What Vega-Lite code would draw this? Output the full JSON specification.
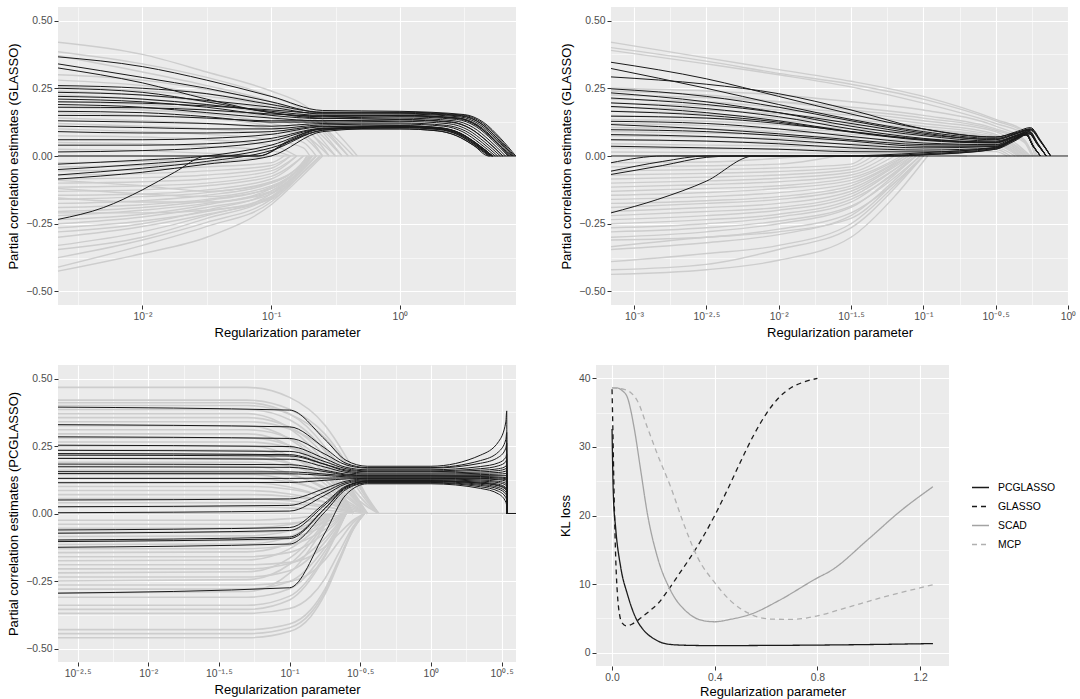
{
"$schema":"https://vega.github.io/schema/vega-lite/v6.json",
"padding":{"left":7,"top":7,"right":0,"bottom":0},
"background":"white",
"config":{
 "font":"Liberation Sans",
 "view":{"fill":"#EBEBEB","stroke":null},
 "axis":{"domain":false,"grid":true,"gridColor":"#FFFFFF","tickColor":"#333333","tickSize":4,"tickWidth":1,"labelColor":"#4D4D4D","labelFontSize":10.4,"titleFontSize":13,"titleFontWeight":"normal","titleColor":"#000000","labelPadding":2,"labelOverlap":false,"labelFlush":false,"labelBound":false},
 "axisX":{"titlePadding":5},
 "axisY":{"titlePadding":5.5}
},
"datasets":{
"p1":[
{"i":"g0","x":0.00221,"y":0},{"i":"g0","x":7.98,"y":0},
{"i":"g1","x":0.00221,"y":0.42},{"i":"g1","x":0.01,"y":0.375},{"i":"g1","x":0.0316,"y":0.31},{"i":"g1","x":0.1,"y":0.24},{"i":"g1","x":0.178,"y":0.19},{"i":"g1","x":0.316,"y":0.09},{"i":"g1","x":0.468,"y":0},
{"i":"g2","x":0.00221,"y":0.385},{"i":"g2","x":0.01,"y":0.34},{"i":"g2","x":0.0316,"y":0.29},{"i":"g2","x":0.1,"y":0.22},{"i":"g2","x":0.178,"y":0.17},{"i":"g2","x":0.398,"y":0},
{"i":"g3","x":0.00221,"y":0.37},{"i":"g3","x":0.01,"y":0.31},{"i":"g3","x":0.0316,"y":0.26},{"i":"g3","x":0.1,"y":0.2},{"i":"g3","x":0.178,"y":0.155},{"i":"g3","x":0.355,"y":0},
{"i":"g4","x":0.00221,"y":0.3},{"i":"g4","x":0.01,"y":0.28},{"i":"g4","x":0.0316,"y":0.245},{"i":"g4","x":0.1,"y":0.2},{"i":"g4","x":0.178,"y":0.16},{"i":"g4","x":0.437,"y":0},
{"i":"g5","x":0.00221,"y":0.28},{"i":"g5","x":0.01,"y":0.26},{"i":"g5","x":0.0316,"y":0.23},{"i":"g5","x":0.1,"y":0.19},{"i":"g5","x":0.178,"y":0.15},{"i":"g5","x":0.398,"y":0},
{"i":"g6","x":0.00221,"y":0.255},{"i":"g6","x":0.01,"y":0.24},{"i":"g6","x":0.0316,"y":0.22},{"i":"g6","x":0.1,"y":0.18},{"i":"g6","x":0.178,"y":0.13},{"i":"g6","x":0.316,"y":0},
{"i":"g7","x":0.00221,"y":0.24},{"i":"g7","x":0.01,"y":0.225},{"i":"g7","x":0.0316,"y":0.2},{"i":"g7","x":0.1,"y":0.17},{"i":"g7","x":0.178,"y":0.13},{"i":"g7","x":0.355,"y":0},
{"i":"g8","x":0.00221,"y":0.225},{"i":"g8","x":0.01,"y":0.21},{"i":"g8","x":0.0316,"y":0.19},{"i":"g8","x":0.1,"y":0.15},{"i":"g8","x":0.178,"y":0.11},{"i":"g8","x":0.282,"y":0},
{"i":"g9","x":0.00221,"y":0.2},{"i":"g9","x":0.01,"y":0.19},{"i":"g9","x":0.0316,"y":0.17},{"i":"g9","x":0.1,"y":0.14},{"i":"g9","x":0.178,"y":0.1},{"i":"g9","x":0.316,"y":0},
{"i":"g10","x":0.00221,"y":0.18},{"i":"g10","x":0.01,"y":0.17},{"i":"g10","x":0.0316,"y":0.155},{"i":"g10","x":0.1,"y":0.12},{"i":"g10","x":0.178,"y":0.085},{"i":"g10","x":0.251,"y":0},
{"i":"g11","x":0.00221,"y":0.16},{"i":"g11","x":0.01,"y":0.15},{"i":"g11","x":0.0316,"y":0.14},{"i":"g11","x":0.1,"y":0.11},{"i":"g11","x":0.178,"y":0.08},{"i":"g11","x":0.282,"y":0},
{"i":"g12","x":0.00221,"y":0.14},{"i":"g12","x":0.01,"y":0.13},{"i":"g12","x":0.0316,"y":0.12},{"i":"g12","x":0.1,"y":0.1},{"i":"g12","x":0.178,"y":0.07},{"i":"g12","x":0.251,"y":0},
{"i":"g13","x":0.00221,"y":0.12},{"i":"g13","x":0.01,"y":0.11},{"i":"g13","x":0.0316,"y":0.1},{"i":"g13","x":0.1,"y":0.08},{"i":"g13","x":0.178,"y":0.05},{"i":"g13","x":0.224,"y":0},
{"i":"g14","x":0.00221,"y":0.1},{"i":"g14","x":0.01,"y":0.09},{"i":"g14","x":0.0316,"y":0.08},{"i":"g14","x":0.1,"y":0.06},{"i":"g14","x":0.178,"y":0.03},{"i":"g14","x":0.2,"y":0},
{"i":"g15","x":0.00221,"y":0.075},{"i":"g15","x":0.01,"y":0.07},{"i":"g15","x":0.0316,"y":0.06},{"i":"g15","x":0.1,"y":0.04},{"i":"g15","x":0.158,"y":0},
{"i":"g16","x":0.00221,"y":0.05},{"i":"g16","x":0.01,"y":0.045},{"i":"g16","x":0.0316,"y":0.035},{"i":"g16","x":0.1,"y":0.02},{"i":"g16","x":0.141,"y":0},
{"i":"g17","x":0.00221,"y":0.025},{"i":"g17","x":0.01,"y":0.02},{"i":"g17","x":0.0316,"y":0.01},{"i":"g17","x":0.1,"y":0},
{"i":"g18","x":0.00221,"y":-0.425},{"i":"g18","x":0.01,"y":-0.36},{"i":"g18","x":0.0316,"y":-0.3},{"i":"g18","x":0.1,"y":-0.18},{"i":"g18","x":0.178,"y":-0.07},{"i":"g18","x":0.251,"y":0},
{"i":"g19","x":0.00221,"y":-0.41},{"i":"g19","x":0.01,"y":-0.33},{"i":"g19","x":0.0316,"y":-0.26},{"i":"g19","x":0.1,"y":-0.17},{"i":"g19","x":0.178,"y":-0.06},{"i":"g19","x":0.24,"y":0},
{"i":"g20","x":0.00221,"y":-0.375},{"i":"g20","x":0.01,"y":-0.31},{"i":"g20","x":0.0316,"y":-0.245},{"i":"g20","x":0.1,"y":-0.16},{"i":"g20","x":0.178,"y":-0.05},{"i":"g20","x":0.224,"y":0},
{"i":"g21","x":0.00221,"y":-0.345},{"i":"g21","x":0.01,"y":-0.3},{"i":"g21","x":0.0316,"y":-0.23},{"i":"g21","x":0.1,"y":-0.15},{"i":"g21","x":0.178,"y":-0.045},{"i":"g21","x":0.224,"y":0},
{"i":"g22","x":0.00221,"y":-0.33},{"i":"g22","x":0.01,"y":-0.28},{"i":"g22","x":0.0316,"y":-0.22},{"i":"g22","x":0.1,"y":-0.14},{"i":"g22","x":0.178,"y":-0.04},{"i":"g22","x":0.209,"y":0},
{"i":"g23","x":0.00221,"y":-0.3},{"i":"g23","x":0.01,"y":-0.26},{"i":"g23","x":0.0316,"y":-0.215},{"i":"g23","x":0.1,"y":-0.155},{"i":"g23","x":0.178,"y":-0.06},{"i":"g23","x":0.24,"y":0},
{"i":"g24","x":0.00221,"y":-0.28},{"i":"g24","x":0.01,"y":-0.25},{"i":"g24","x":0.0316,"y":-0.2},{"i":"g24","x":0.1,"y":-0.13},{"i":"g24","x":0.178,"y":-0.03},{"i":"g24","x":0.2,"y":0},
{"i":"g25","x":0.00221,"y":-0.265},{"i":"g25","x":0.01,"y":-0.24},{"i":"g25","x":0.0316,"y":-0.205},{"i":"g25","x":0.1,"y":-0.15},{"i":"g25","x":0.178,"y":-0.05},{"i":"g25","x":0.224,"y":0},
{"i":"g26","x":0.00221,"y":-0.25},{"i":"g26","x":0.01,"y":-0.225},{"i":"g26","x":0.0316,"y":-0.19},{"i":"g26","x":0.1,"y":-0.14},{"i":"g26","x":0.178,"y":-0.045},{"i":"g26","x":0.224,"y":0},
{"i":"g27","x":0.00221,"y":-0.235},{"i":"g27","x":0.01,"y":-0.215},{"i":"g27","x":0.0316,"y":-0.18},{"i":"g27","x":0.1,"y":-0.12},{"i":"g27","x":0.178,"y":-0.03},{"i":"g27","x":0.2,"y":0},
{"i":"g28","x":0.00221,"y":-0.22},{"i":"g28","x":0.01,"y":-0.2},{"i":"g28","x":0.0316,"y":-0.175},{"i":"g28","x":0.1,"y":-0.13},{"i":"g28","x":0.178,"y":-0.04},{"i":"g28","x":0.209,"y":0},
{"i":"g29","x":0.00221,"y":-0.205},{"i":"g29","x":0.01,"y":-0.19},{"i":"g29","x":0.0316,"y":-0.165},{"i":"g29","x":0.1,"y":-0.115},{"i":"g29","x":0.178,"y":-0.03},{"i":"g29","x":0.2,"y":0},
{"i":"g30","x":0.00221,"y":-0.19},{"i":"g30","x":0.01,"y":-0.18},{"i":"g30","x":0.0316,"y":-0.16},{"i":"g30","x":0.1,"y":-0.12},{"i":"g30","x":0.178,"y":-0.035},{"i":"g30","x":0.209,"y":0},
{"i":"g31","x":0.00221,"y":-0.175},{"i":"g31","x":0.01,"y":-0.165},{"i":"g31","x":0.0316,"y":-0.145},{"i":"g31","x":0.1,"y":-0.1},{"i":"g31","x":0.178,"y":-0.02},{"i":"g31","x":0.191,"y":0},
{"i":"g32","x":0.00221,"y":-0.16},{"i":"g32","x":0.01,"y":-0.15},{"i":"g32","x":0.0316,"y":-0.135},{"i":"g32","x":0.1,"y":-0.095},{"i":"g32","x":0.178,"y":-0.02},{"i":"g32","x":0.191,"y":0},
{"i":"g33","x":0.00221,"y":-0.145},{"i":"g33","x":0.01,"y":-0.14},{"i":"g33","x":0.0316,"y":-0.125},{"i":"g33","x":0.1,"y":-0.085},{"i":"g33","x":0.178,"y":0},
{"i":"g34","x":0.00221,"y":-0.13},{"i":"g34","x":0.01,"y":-0.125},{"i":"g34","x":0.0316,"y":-0.11},{"i":"g34","x":0.1,"y":-0.075},{"i":"g34","x":0.178,"y":0},
{"i":"g35","x":0.00221,"y":-0.115},{"i":"g35","x":0.01,"y":-0.11},{"i":"g35","x":0.0316,"y":-0.1},{"i":"g35","x":0.1,"y":-0.065},{"i":"g35","x":0.158,"y":0},
{"i":"g36","x":0.00221,"y":-0.1},{"i":"g36","x":0.01,"y":-0.095},{"i":"g36","x":0.0316,"y":-0.085},{"i":"g36","x":0.1,"y":-0.055},{"i":"g36","x":0.158,"y":0},
{"i":"g37","x":0.00221,"y":-0.085},{"i":"g37","x":0.01,"y":-0.08},{"i":"g37","x":0.0316,"y":-0.07},{"i":"g37","x":0.1,"y":-0.045},{"i":"g37","x":0.141,"y":0},
{"i":"g38","x":0.00221,"y":-0.07},{"i":"g38","x":0.01,"y":-0.065},{"i":"g38","x":0.0316,"y":-0.055},{"i":"g38","x":0.1,"y":-0.035},{"i":"g38","x":0.141,"y":0},
{"i":"g39","x":0.00221,"y":-0.055},{"i":"g39","x":0.01,"y":-0.05},{"i":"g39","x":0.0316,"y":-0.04},{"i":"g39","x":0.1,"y":-0.025},{"i":"g39","x":0.126,"y":0},
{"i":"g40","x":0.00221,"y":-0.04},{"i":"g40","x":0.01,"y":-0.035},{"i":"g40","x":0.0316,"y":-0.025},{"i":"g40","x":0.1,"y":0},
{"i":"g41","x":0.00221,"y":-0.025},{"i":"g41","x":0.01,"y":-0.02},{"i":"g41","x":0.0316,"y":-0.01},{"i":"g41","x":0.0631,"y":0},
{"i":"g42","x":0.00221,"y":-0.155},{"i":"g42","x":0.01,"y":-0.17},{"i":"g42","x":0.0316,"y":-0.17},{"i":"g42","x":0.1,"y":-0.135},{"i":"g42","x":0.178,"y":-0.05},{"i":"g42","x":0.224,"y":0},
{"i":"g43","x":0.00221,"y":-0.12},{"i":"g43","x":0.01,"y":-0.14},{"i":"g43","x":0.0316,"y":-0.15},{"i":"g43","x":0.1,"y":-0.11},{"i":"g43","x":0.178,"y":-0.03},{"i":"g43","x":0.2,"y":0},
{"i":"g44","x":0.00221,"y":-0.21},{"i":"g44","x":0.01,"y":-0.21},{"i":"g44","x":0.0316,"y":-0.2},{"i":"g44","x":0.1,"y":-0.16},{"i":"g44","x":0.178,"y":-0.06},{"i":"g44","x":0.24,"y":0},
{"i":"g45","x":0.00221,"y":-0.09},{"i":"g45","x":0.01,"y":-0.11},{"i":"g45","x":0.0316,"y":-0.13},{"i":"g45","x":0.1,"y":-0.1},{"i":"g45","x":0.178,"y":-0.025},{"i":"g45","x":0.2,"y":0},
{"i":"b0","x":0.00221,"y":0},{"i":"b0","x":0.0794,"y":0},{"i":"b0","x":0.141,"y":0.055},{"i":"b0","x":0.251,"y":0.1},{"i":"b0","x":1,"y":0.1},{"i":"b0","x":1.95,"y":0.093},{"i":"b0","x":2.75,"y":0.075},{"i":"b0","x":3.72,"y":0.04},{"i":"b0","x":4.9,"y":0},
{"i":"b1","x":0.00221,"y":0.366},{"i":"b1","x":0.01,"y":0.33},{"i":"b1","x":0.0316,"y":0.28},{"i":"b1","x":0.1,"y":0.22},{"i":"b1","x":0.251,"y":0.168},{"i":"b1","x":1,"y":0.165},{"i":"b1","x":3.16,"y":0.153},{"i":"b1","x":4.47,"y":0.124},{"i":"b1","x":6.03,"y":0.066},{"i":"b1","x":7.94,"y":0},
{"i":"b2","x":0.00221,"y":0.34},{"i":"b2","x":0.01,"y":0.29},{"i":"b2","x":0.0316,"y":0.25},{"i":"b2","x":0.1,"y":0.2},{"i":"b2","x":0.251,"y":0.16},{"i":"b2","x":1,"y":0.158},{"i":"b2","x":3.02,"y":0.147},{"i":"b2","x":4.27,"y":0.119},{"i":"b2","x":5.75,"y":0.063},{"i":"b2","x":7.59,"y":0},
{"i":"b3","x":0.00221,"y":0.325},{"i":"b3","x":0.01,"y":0.27},{"i":"b3","x":0.0316,"y":0.21},{"i":"b3","x":0.1,"y":0.16},{"i":"b3","x":0.251,"y":0.145},{"i":"b3","x":1,"y":0.15},{"i":"b3","x":2.88,"y":0.14},{"i":"b3","x":4.07,"y":0.113},{"i":"b3","x":5.5,"y":0.06},{"i":"b3","x":7.24,"y":0},
{"i":"b4","x":0.00221,"y":0.26},{"i":"b4","x":0.01,"y":0.25},{"i":"b4","x":0.0316,"y":0.23},{"i":"b4","x":0.1,"y":0.19},{"i":"b4","x":0.251,"y":0.162},{"i":"b4","x":1,"y":0.162},{"i":"b4","x":3.09,"y":0.151},{"i":"b4","x":4.37,"y":0.122},{"i":"b4","x":5.89,"y":0.065},{"i":"b4","x":7.76,"y":0},
{"i":"b5","x":0.00221,"y":0.25},{"i":"b5","x":0.01,"y":0.235},{"i":"b5","x":0.0316,"y":0.2},{"i":"b5","x":0.1,"y":0.16},{"i":"b5","x":0.251,"y":0.14},{"i":"b5","x":1,"y":0.145},{"i":"b5","x":2.75,"y":0.135},{"i":"b5","x":3.89,"y":0.109},{"i":"b5","x":5.25,"y":0.058},{"i":"b5","x":6.92,"y":0},
{"i":"b6","x":0.00221,"y":0.235},{"i":"b6","x":0.01,"y":0.225},{"i":"b6","x":0.0316,"y":0.205},{"i":"b6","x":0.1,"y":0.18},{"i":"b6","x":0.251,"y":0.155},{"i":"b6","x":1,"y":0.155},{"i":"b6","x":2.95,"y":0.144},{"i":"b6","x":4.17,"y":0.116},{"i":"b6","x":5.62,"y":0.062},{"i":"b6","x":7.41,"y":0},
{"i":"b7","x":0.00221,"y":0.22},{"i":"b7","x":0.01,"y":0.21},{"i":"b7","x":0.0316,"y":0.19},{"i":"b7","x":0.1,"y":0.165},{"i":"b7","x":0.251,"y":0.15},{"i":"b7","x":1,"y":0.15},{"i":"b7","x":2.82,"y":0.14},{"i":"b7","x":3.98,"y":0.113},{"i":"b7","x":5.37,"y":0.06},{"i":"b7","x":7.08,"y":0},
{"i":"b8","x":0.00221,"y":0.21},{"i":"b8","x":0.01,"y":0.2},{"i":"b8","x":0.0316,"y":0.18},{"i":"b8","x":0.1,"y":0.15},{"i":"b8","x":0.251,"y":0.138},{"i":"b8","x":1,"y":0.14},{"i":"b8","x":2.63,"y":0.13},{"i":"b8","x":3.72,"y":0.105},{"i":"b8","x":5.01,"y":0.056},{"i":"b8","x":6.61,"y":0},
{"i":"b9","x":0.00221,"y":0.2},{"i":"b9","x":0.01,"y":0.195},{"i":"b9","x":0.0316,"y":0.185},{"i":"b9","x":0.1,"y":0.17},{"i":"b9","x":0.251,"y":0.158},{"i":"b9","x":1,"y":0.16},{"i":"b9","x":3.02,"y":0.149},{"i":"b9","x":4.27,"y":0.12},{"i":"b9","x":5.75,"y":0.064},{"i":"b9","x":7.59,"y":0},
{"i":"b10","x":0.00221,"y":0.19},{"i":"b10","x":0.01,"y":0.18},{"i":"b10","x":0.0316,"y":0.16},{"i":"b10","x":0.1,"y":0.14},{"i":"b10","x":0.251,"y":0.13},{"i":"b10","x":1,"y":0.135},{"i":"b10","x":2.51,"y":0.126},{"i":"b10","x":3.55,"y":0.101},{"i":"b10","x":4.79,"y":0.054},{"i":"b10","x":6.31,"y":0},
{"i":"b11","x":0.00221,"y":0.18},{"i":"b11","x":0.01,"y":0.178},{"i":"b11","x":0.0316,"y":0.17},{"i":"b11","x":0.1,"y":0.155},{"i":"b11","x":0.251,"y":0.148},{"i":"b11","x":1,"y":0.148},{"i":"b11","x":2.82,"y":0.138},{"i":"b11","x":3.98,"y":0.111},{"i":"b11","x":5.37,"y":0.059},{"i":"b11","x":7.08,"y":0},
{"i":"b12","x":0.00221,"y":0.165},{"i":"b12","x":0.01,"y":0.16},{"i":"b12","x":0.0316,"y":0.145},{"i":"b12","x":0.1,"y":0.125},{"i":"b12","x":0.251,"y":0.125},{"i":"b12","x":1,"y":0.128},{"i":"b12","x":2.4,"y":0.119},{"i":"b12","x":3.39,"y":0.096},{"i":"b12","x":4.57,"y":0.051},{"i":"b12","x":6.03,"y":0},
{"i":"b13","x":0.00221,"y":0.15},{"i":"b13","x":0.01,"y":0.148},{"i":"b13","x":0.0316,"y":0.14},{"i":"b13","x":0.1,"y":0.13},{"i":"b13","x":0.251,"y":0.13},{"i":"b13","x":1,"y":0.133},{"i":"b13","x":2.51,"y":0.124},{"i":"b13","x":3.55,"y":0.1},{"i":"b13","x":4.79,"y":0.053},{"i":"b13","x":6.31,"y":0},
{"i":"b14","x":0.00221,"y":0.13},{"i":"b14","x":0.01,"y":0.125},{"i":"b14","x":0.0316,"y":0.12},{"i":"b14","x":0.1,"y":0.11},{"i":"b14","x":0.251,"y":0.12},{"i":"b14","x":1,"y":0.122},{"i":"b14","x":2.29,"y":0.113},{"i":"b14","x":3.24,"y":0.092},{"i":"b14","x":4.37,"y":0.049},{"i":"b14","x":5.75,"y":0},
{"i":"b15","x":0.00221,"y":0.11},{"i":"b15","x":0.01,"y":0.105},{"i":"b15","x":0.0316,"y":0.1},{"i":"b15","x":0.1,"y":0.1},{"i":"b15","x":0.251,"y":0.115},{"i":"b15","x":1,"y":0.118},{"i":"b15","x":2.19,"y":0.11},{"i":"b15","x":3.09,"y":0.089},{"i":"b15","x":4.17,"y":0.047},{"i":"b15","x":5.5,"y":0},
{"i":"b16","x":0.00221,"y":0.09},{"i":"b16","x":0.01,"y":0.085},{"i":"b16","x":0.0316,"y":0.085},{"i":"b16","x":0.1,"y":0.09},{"i":"b16","x":0.251,"y":0.11},{"i":"b16","x":1,"y":0.11},{"i":"b16","x":2.09,"y":0.102},{"i":"b16","x":2.95,"y":0.083},{"i":"b16","x":3.98,"y":0.044},{"i":"b16","x":5.25,"y":0},
{"i":"b17","x":0.00221,"y":0.06},{"i":"b17","x":0.01,"y":0.06},{"i":"b17","x":0.0316,"y":0.065},{"i":"b17","x":0.1,"y":0.08},{"i":"b17","x":0.251,"y":0.108},{"i":"b17","x":1,"y":0.112},{"i":"b17","x":2.09,"y":0.104},{"i":"b17","x":2.95,"y":0.084},{"i":"b17","x":3.98,"y":0.045},{"i":"b17","x":5.25,"y":0},
{"i":"b18","x":0.00221,"y":0.04},{"i":"b18","x":0.01,"y":0.04},{"i":"b18","x":0.0316,"y":0.045},{"i":"b18","x":0.1,"y":0.065},{"i":"b18","x":0.251,"y":0.102},{"i":"b18","x":1,"y":0.105},{"i":"b18","x":2,"y":0.098},{"i":"b18","x":2.82,"y":0.079},{"i":"b18","x":3.8,"y":0.042},{"i":"b18","x":5.01,"y":0},
{"i":"b19","x":0.00221,"y":0.015},{"i":"b19","x":0.01,"y":0.02},{"i":"b19","x":0.0316,"y":0.03},{"i":"b19","x":0.1,"y":0.055},{"i":"b19","x":0.251,"y":0.1},{"i":"b19","x":1,"y":0.1},{"i":"b19","x":1.95,"y":0.093},{"i":"b19","x":2.75,"y":0.075},{"i":"b19","x":3.72,"y":0.04},{"i":"b19","x":4.9,"y":0},{"i":"b19","x":7.98,"y":0},
{"i":"b20","x":0.00221,"y":-0.03},{"i":"b20","x":0.01,"y":-0.015},{"i":"b20","x":0.0316,"y":0},{"i":"b20","x":0.1,"y":0.04},{"i":"b20","x":0.251,"y":0.1},{"i":"b20","x":1,"y":0.108},{"i":"b20","x":2.04,"y":0.1},{"i":"b20","x":2.88,"y":0.081},{"i":"b20","x":3.89,"y":0.043},{"i":"b20","x":5.13,"y":0},
{"i":"b21","x":0.00221,"y":-0.05},{"i":"b21","x":0.01,"y":-0.03},{"i":"b21","x":0.0316,"y":-0.01},{"i":"b21","x":0.1,"y":0.03},{"i":"b21","x":0.251,"y":0.095},{"i":"b21","x":1,"y":0.112},{"i":"b21","x":2.09,"y":0.104},{"i":"b21","x":2.95,"y":0.084},{"i":"b21","x":3.98,"y":0.045},{"i":"b21","x":5.25,"y":0},
{"i":"b22","x":0.00221,"y":-0.07},{"i":"b22","x":0.01,"y":-0.045},{"i":"b22","x":0.0316,"y":-0.02},{"i":"b22","x":0.1,"y":0.02},{"i":"b22","x":0.251,"y":0.095},{"i":"b22","x":1,"y":0.11},{"i":"b22","x":2.09,"y":0.102},{"i":"b22","x":2.95,"y":0.083},{"i":"b22","x":3.98,"y":0.044},{"i":"b22","x":5.25,"y":0},
{"i":"b23","x":0.00221,"y":-0.085},{"i":"b23","x":0.01,"y":-0.06},{"i":"b23","x":0.0316,"y":-0.03},{"i":"b23","x":0.1,"y":0},{"i":"b23","x":0.251,"y":0.09},{"i":"b23","x":1,"y":0.105},{"i":"b23","x":2,"y":0.098},{"i":"b23","x":2.82,"y":0.079},{"i":"b23","x":3.8,"y":0.042},{"i":"b23","x":5.01,"y":0},
{"i":"b24","x":0.00221,"y":-0.234},{"i":"b24","x":0.00501,"y":-0.19},{"i":"b24","x":0.01,"y":-0.125},{"i":"b24","x":0.0178,"y":-0.06},{"i":"b24","x":0.0316,"y":0},{"i":"b24","x":0.0794,"y":0},{"i":"b24","x":0.141,"y":0.06},{"i":"b24","x":0.251,"y":0.103},{"i":"b24","x":1,"y":0.108},{"i":"b24","x":2.04,"y":0.1},{"i":"b24","x":2.88,"y":0.081},{"i":"b24","x":3.89,"y":0.043},{"i":"b24","x":5.13,"y":0}
],
"p2":[
{"i":"g1","x":0.000693,"y":0.42},{"i":"g1","x":0.00316,"y":0.362},{"i":"g1","x":0.01,"y":0.319},{"i":"g1","x":0.0316,"y":0.276},{"i":"g1","x":0.1,"y":0.22},{"i":"g1","x":0.316,"y":0.135},{"i":"g1","x":0.525,"y":0.085},{"i":"g1","x":0.617,"y":0},
{"i":"g2","x":0.000693,"y":0.4},{"i":"g2","x":0.00316,"y":0.35},{"i":"g2","x":0.01,"y":0.305},{"i":"g2","x":0.0316,"y":0.265},{"i":"g2","x":0.1,"y":0.21},{"i":"g2","x":0.316,"y":0.13},{"i":"g2","x":0.525,"y":0.08},{"i":"g2","x":0.603,"y":0},
{"i":"g3","x":0.000693,"y":0.39},{"i":"g3","x":0.00316,"y":0.34},{"i":"g3","x":0.01,"y":0.3},{"i":"g3","x":0.0316,"y":0.255},{"i":"g3","x":0.1,"y":0.195},{"i":"g3","x":0.316,"y":0.12},{"i":"g3","x":0.525,"y":0.075},{"i":"g3","x":0.589,"y":0},
{"i":"g4","x":0.000693,"y":0.25},{"i":"g4","x":0.00316,"y":0.24},{"i":"g4","x":0.01,"y":0.225},{"i":"g4","x":0.0316,"y":0.2},{"i":"g4","x":0.1,"y":0.17},{"i":"g4","x":0.316,"y":0.11},{"i":"g4","x":0.5,"y":0.06},{"i":"g4","x":0.575,"y":0},
{"i":"g5","x":0.000693,"y":0.24},{"i":"g5","x":0.00316,"y":0.225},{"i":"g5","x":0.01,"y":0.2},{"i":"g5","x":0.0316,"y":0.17},{"i":"g5","x":0.1,"y":0.14},{"i":"g5","x":0.316,"y":0.095},{"i":"g5","x":0.5,"y":0.05},{"i":"g5","x":0.562,"y":0},
{"i":"g6","x":0.000693,"y":0.225},{"i":"g6","x":0.00316,"y":0.215},{"i":"g6","x":0.01,"y":0.2},{"i":"g6","x":0.0316,"y":0.18},{"i":"g6","x":0.1,"y":0.15},{"i":"g6","x":0.316,"y":0.1},{"i":"g6","x":0.5,"y":0.055},{"i":"g6","x":0.575,"y":0},
{"i":"g7","x":0.000693,"y":0.21},{"i":"g7","x":0.00316,"y":0.2},{"i":"g7","x":0.01,"y":0.18},{"i":"g7","x":0.0316,"y":0.16},{"i":"g7","x":0.1,"y":0.13},{"i":"g7","x":0.316,"y":0.09},{"i":"g7","x":0.55,"y":0},
{"i":"g8","x":0.000693,"y":0.195},{"i":"g8","x":0.00316,"y":0.185},{"i":"g8","x":0.01,"y":0.17},{"i":"g8","x":0.0316,"y":0.15},{"i":"g8","x":0.1,"y":0.12},{"i":"g8","x":0.316,"y":0.08},{"i":"g8","x":0.537,"y":0},
{"i":"g9","x":0.000693,"y":0.18},{"i":"g9","x":0.00316,"y":0.17},{"i":"g9","x":0.01,"y":0.155},{"i":"g9","x":0.0316,"y":0.135},{"i":"g9","x":0.1,"y":0.11},{"i":"g9","x":0.316,"y":0.075},{"i":"g9","x":0.525,"y":0},
{"i":"g10","x":0.000693,"y":0.165},{"i":"g10","x":0.00316,"y":0.155},{"i":"g10","x":0.01,"y":0.14},{"i":"g10","x":0.0316,"y":0.125},{"i":"g10","x":0.1,"y":0.1},{"i":"g10","x":0.316,"y":0.07},{"i":"g10","x":0.5,"y":0},
{"i":"g11","x":0.000693,"y":0.15},{"i":"g11","x":0.00316,"y":0.14},{"i":"g11","x":0.01,"y":0.13},{"i":"g11","x":0.0316,"y":0.115},{"i":"g11","x":0.1,"y":0.095},{"i":"g11","x":0.316,"y":0.065},{"i":"g11","x":0.513,"y":0},
{"i":"g12","x":0.000693,"y":0.135},{"i":"g12","x":0.00316,"y":0.128},{"i":"g12","x":0.01,"y":0.115},{"i":"g12","x":0.0316,"y":0.1},{"i":"g12","x":0.1,"y":0.085},{"i":"g12","x":0.316,"y":0.06},{"i":"g12","x":0.48,"y":0},
{"i":"g13","x":0.000693,"y":0.12},{"i":"g13","x":0.00316,"y":0.112},{"i":"g13","x":0.01,"y":0.1},{"i":"g13","x":0.0316,"y":0.09},{"i":"g13","x":0.1,"y":0.075},{"i":"g13","x":0.316,"y":0.055},{"i":"g13","x":0.5,"y":0},
{"i":"g14","x":0.000693,"y":0.105},{"i":"g14","x":0.00316,"y":0.1},{"i":"g14","x":0.01,"y":0.09},{"i":"g14","x":0.0316,"y":0.08},{"i":"g14","x":0.1,"y":0.065},{"i":"g14","x":0.316,"y":0.05},{"i":"g14","x":0.47,"y":0},
{"i":"g15","x":0.000693,"y":0.09},{"i":"g15","x":0.00316,"y":0.085},{"i":"g15","x":0.01,"y":0.078},{"i":"g15","x":0.0316,"y":0.068},{"i":"g15","x":0.1,"y":0.055},{"i":"g15","x":0.316,"y":0.045},{"i":"g15","x":0.46,"y":0},
{"i":"g16","x":0.000693,"y":0.075},{"i":"g16","x":0.00316,"y":0.07},{"i":"g16","x":0.01,"y":0.065},{"i":"g16","x":0.0316,"y":0.057},{"i":"g16","x":0.1,"y":0.047},{"i":"g16","x":0.316,"y":0.04},{"i":"g16","x":0.45,"y":0},
{"i":"g17","x":0.000693,"y":0.06},{"i":"g17","x":0.00316,"y":0.055},{"i":"g17","x":0.01,"y":0.05},{"i":"g17","x":0.0316,"y":0.045},{"i":"g17","x":0.1,"y":0.038},{"i":"g17","x":0.316,"y":0.032},{"i":"g17","x":0.43,"y":0},
{"i":"g18","x":0.000693,"y":0.045},{"i":"g18","x":0.00316,"y":0.04},{"i":"g18","x":0.01,"y":0.037},{"i":"g18","x":0.0316,"y":0.033},{"i":"g18","x":0.1,"y":0.028},{"i":"g18","x":0.316,"y":0.025},{"i":"g18","x":0.4,"y":0},
{"i":"g19","x":0.000693,"y":0.03},{"i":"g19","x":0.00316,"y":0.027},{"i":"g19","x":0.01,"y":0.025},{"i":"g19","x":0.0316,"y":0.022},{"i":"g19","x":0.1,"y":0.018},{"i":"g19","x":0.316,"y":0.016},{"i":"g19","x":0.38,"y":0},
{"i":"g20","x":0.000693,"y":0.015},{"i":"g20","x":0.00316,"y":0.013},{"i":"g20","x":0.01,"y":0.012},{"i":"g20","x":0.0316,"y":0.01},{"i":"g20","x":0.1,"y":0.008},{"i":"g20","x":0.2,"y":0},
{"i":"g21","x":0.000693,"y":-0.437},{"i":"g21","x":0.00316,"y":-0.42},{"i":"g21","x":0.01,"y":-0.385},{"i":"g21","x":0.0316,"y":-0.3},{"i":"g21","x":0.0631,"y":-0.15},{"i":"g21","x":0.107,"y":0},
{"i":"g22","x":0.000693,"y":-0.42},{"i":"g22","x":0.00316,"y":-0.4},{"i":"g22","x":0.01,"y":-0.345},{"i":"g22","x":0.0316,"y":-0.265},{"i":"g22","x":0.0631,"y":-0.12},{"i":"g22","x":0.1,"y":0},
{"i":"g23","x":0.000693,"y":-0.39},{"i":"g23","x":0.00316,"y":-0.36},{"i":"g23","x":0.01,"y":-0.33},{"i":"g23","x":0.0316,"y":-0.25},{"i":"g23","x":0.0631,"y":-0.11},{"i":"g23","x":0.1,"y":0},
{"i":"g24","x":0.000693,"y":-0.345},{"i":"g24","x":0.00316,"y":-0.32},{"i":"g24","x":0.01,"y":-0.29},{"i":"g24","x":0.0316,"y":-0.22},{"i":"g24","x":0.0631,"y":-0.09},{"i":"g24","x":0.095,"y":0},
{"i":"g25","x":0.000693,"y":-0.335},{"i":"g25","x":0.00316,"y":-0.3},{"i":"g25","x":0.01,"y":-0.28},{"i":"g25","x":0.0316,"y":-0.23},{"i":"g25","x":0.0631,"y":-0.1},{"i":"g25","x":0.1,"y":0},
{"i":"g26","x":0.000693,"y":-0.3},{"i":"g26","x":0.00316,"y":-0.28},{"i":"g26","x":0.01,"y":-0.25},{"i":"g26","x":0.0316,"y":-0.19},{"i":"g26","x":0.0631,"y":-0.07},{"i":"g26","x":0.0891,"y":0},
{"i":"g27","x":0.000693,"y":-0.28},{"i":"g27","x":0.00316,"y":-0.265},{"i":"g27","x":0.01,"y":-0.24},{"i":"g27","x":0.0316,"y":-0.185},{"i":"g27","x":0.0631,"y":-0.08},{"i":"g27","x":0.095,"y":0},
{"i":"g28","x":0.000693,"y":-0.265},{"i":"g28","x":0.00316,"y":-0.25},{"i":"g28","x":0.01,"y":-0.225},{"i":"g28","x":0.0316,"y":-0.17},{"i":"g28","x":0.0631,"y":-0.06},{"i":"g28","x":0.0891,"y":0},
{"i":"g29","x":0.000693,"y":-0.25},{"i":"g29","x":0.00316,"y":-0.235},{"i":"g29","x":0.01,"y":-0.215},{"i":"g29","x":0.0316,"y":-0.16},{"i":"g29","x":0.0631,"y":-0.065},{"i":"g29","x":0.0891,"y":0},
{"i":"g30","x":0.000693,"y":-0.235},{"i":"g30","x":0.00316,"y":-0.22},{"i":"g30","x":0.01,"y":-0.2},{"i":"g30","x":0.0316,"y":-0.15},{"i":"g30","x":0.0631,"y":-0.05},{"i":"g30","x":0.0841,"y":0},
{"i":"g31","x":0.000693,"y":-0.22},{"i":"g31","x":0.00316,"y":-0.205},{"i":"g31","x":0.01,"y":-0.19},{"i":"g31","x":0.0316,"y":-0.14},{"i":"g31","x":0.0631,"y":-0.05},{"i":"g31","x":0.0891,"y":0},
{"i":"g32","x":0.000693,"y":-0.205},{"i":"g32","x":0.00316,"y":-0.19},{"i":"g32","x":0.01,"y":-0.175},{"i":"g32","x":0.0316,"y":-0.13},{"i":"g32","x":0.0631,"y":-0.04},{"i":"g32","x":0.0841,"y":0},
{"i":"g33","x":0.000693,"y":-0.19},{"i":"g33","x":0.00316,"y":-0.175},{"i":"g33","x":0.01,"y":-0.16},{"i":"g33","x":0.0316,"y":-0.12},{"i":"g33","x":0.0631,"y":-0.035},{"i":"g33","x":0.0794,"y":0},
{"i":"g34","x":0.000693,"y":-0.175},{"i":"g34","x":0.00316,"y":-0.165},{"i":"g34","x":0.01,"y":-0.15},{"i":"g34","x":0.0316,"y":-0.11},{"i":"g34","x":0.0631,"y":-0.03},{"i":"g34","x":0.0794,"y":0},
{"i":"g35","x":0.000693,"y":-0.16},{"i":"g35","x":0.00316,"y":-0.15},{"i":"g35","x":0.01,"y":-0.135},{"i":"g35","x":0.0316,"y":-0.1},{"i":"g35","x":0.0631,"y":-0.025},{"i":"g35","x":0.075,"y":0},
{"i":"g36","x":0.000693,"y":-0.145},{"i":"g36","x":0.00316,"y":-0.135},{"i":"g36","x":0.01,"y":-0.12},{"i":"g36","x":0.0316,"y":-0.09},{"i":"g36","x":0.0631,"y":-0.02},{"i":"g36","x":0.075,"y":0},
{"i":"g37","x":0.000693,"y":-0.13},{"i":"g37","x":0.00316,"y":-0.12},{"i":"g37","x":0.01,"y":-0.11},{"i":"g37","x":0.0316,"y":-0.08},{"i":"g37","x":0.0708,"y":0},
{"i":"g38","x":0.000693,"y":-0.115},{"i":"g38","x":0.00316,"y":-0.105},{"i":"g38","x":0.01,"y":-0.095},{"i":"g38","x":0.0316,"y":-0.07},{"i":"g38","x":0.0631,"y":0},
{"i":"g39","x":0.000693,"y":-0.1},{"i":"g39","x":0.00316,"y":-0.092},{"i":"g39","x":0.01,"y":-0.082},{"i":"g39","x":0.0316,"y":-0.06},{"i":"g39","x":0.0562,"y":0},
{"i":"g40","x":0.000693,"y":-0.085},{"i":"g40","x":0.00316,"y":-0.078},{"i":"g40","x":0.01,"y":-0.07},{"i":"g40","x":0.0316,"y":-0.05},{"i":"g40","x":0.0501,"y":0},
{"i":"g41","x":0.000693,"y":-0.07},{"i":"g41","x":0.00316,"y":-0.064},{"i":"g41","x":0.01,"y":-0.057},{"i":"g41","x":0.0316,"y":-0.04},{"i":"g41","x":0.0447,"y":0},
{"i":"g42","x":0.000693,"y":-0.055},{"i":"g42","x":0.00316,"y":-0.05},{"i":"g42","x":0.01,"y":-0.044},{"i":"g42","x":0.0316,"y":-0.03},{"i":"g42","x":0.0398,"y":0},
{"i":"g43","x":0.000693,"y":-0.04},{"i":"g43","x":0.00316,"y":-0.036},{"i":"g43","x":0.01,"y":-0.03},{"i":"g43","x":0.0251,"y":0},
{"i":"g44","x":0.000693,"y":-0.025},{"i":"g44","x":0.00316,"y":-0.022},{"i":"g44","x":0.0158,"y":0},
{"i":"g45","x":0.000693,"y":-0.31},{"i":"g45","x":0.00316,"y":-0.3},{"i":"g45","x":0.01,"y":-0.27},{"i":"g45","x":0.0316,"y":-0.21},{"i":"g45","x":0.0631,"y":-0.1},{"i":"g45","x":0.1,"y":0},
{"i":"b0","x":0.000693,"y":0},{"i":"b0","x":1,"y":0},
{"i":"b1","x":0.000693,"y":0.346},{"i":"b1","x":0.00316,"y":0.285},{"i":"b1","x":0.01,"y":0.22},{"i":"b1","x":0.0316,"y":0.155},{"i":"b1","x":0.1,"y":0.1},{"i":"b1","x":0.316,"y":0.07},{"i":"b1","x":0.447,"y":0.091},{"i":"b1","x":0.55,"y":0.105},{"i":"b1","x":0.646,"y":0.058},{"i":"b1","x":0.759,"y":0},
{"i":"b2","x":0.000693,"y":0.323},{"i":"b2","x":0.00316,"y":0.25},{"i":"b2","x":0.01,"y":0.19},{"i":"b2","x":0.0316,"y":0.135},{"i":"b2","x":0.1,"y":0.09},{"i":"b2","x":0.316,"y":0.065},{"i":"b2","x":0.447,"y":0.086},{"i":"b2","x":0.55,"y":0.1},{"i":"b2","x":0.646,"y":0.055},{"i":"b2","x":0.759,"y":0},
{"i":"b3","x":0.000693,"y":0.292},{"i":"b3","x":0.00316,"y":0.265},{"i":"b3","x":0.01,"y":0.23},{"i":"b3","x":0.0316,"y":0.17},{"i":"b3","x":0.1,"y":0.1},{"i":"b3","x":0.316,"y":0.07},{"i":"b3","x":0.447,"y":0.088},{"i":"b3","x":0.55,"y":0.1},{"i":"b3","x":0.646,"y":0.055},{"i":"b3","x":0.759,"y":0},
{"i":"b4","x":0.000693,"y":0.248},{"i":"b4","x":0.00316,"y":0.22},{"i":"b4","x":0.01,"y":0.18},{"i":"b4","x":0.0316,"y":0.13},{"i":"b4","x":0.1,"y":0.085},{"i":"b4","x":0.316,"y":0.06},{"i":"b4","x":0.437,"y":0.081},{"i":"b4","x":0.537,"y":0.095},{"i":"b4","x":0.617,"y":0.048},{"i":"b4","x":0.708,"y":0},
{"i":"b5","x":0.000693,"y":0.233},{"i":"b5","x":0.00316,"y":0.2},{"i":"b5","x":0.01,"y":0.16},{"i":"b5","x":0.0316,"y":0.11},{"i":"b5","x":0.1,"y":0.075},{"i":"b5","x":0.316,"y":0.055},{"i":"b5","x":0.437,"y":0.076},{"i":"b5","x":0.537,"y":0.09},{"i":"b5","x":0.617,"y":0.045},{"i":"b5","x":0.708,"y":0},
{"i":"b6","x":0.000693,"y":0.214},{"i":"b6","x":0.00316,"y":0.19},{"i":"b6","x":0.01,"y":0.16},{"i":"b6","x":0.0316,"y":0.12},{"i":"b6","x":0.1,"y":0.08},{"i":"b6","x":0.316,"y":0.062},{"i":"b6","x":0.447,"y":0.084},{"i":"b6","x":0.55,"y":0.098},{"i":"b6","x":0.646,"y":0.054},{"i":"b6","x":0.759,"y":0},
{"i":"b7","x":0.000693,"y":0.196},{"i":"b7","x":0.00316,"y":0.175},{"i":"b7","x":0.01,"y":0.145},{"i":"b7","x":0.0316,"y":0.1},{"i":"b7","x":0.1,"y":0.065},{"i":"b7","x":0.316,"y":0.05},{"i":"b7","x":0.437,"y":0.074},{"i":"b7","x":0.537,"y":0.09},{"i":"b7","x":0.617,"y":0.045},{"i":"b7","x":0.708,"y":0},
{"i":"b8","x":0.000693,"y":0.183},{"i":"b8","x":0.00316,"y":0.16},{"i":"b8","x":0.01,"y":0.13},{"i":"b8","x":0.0316,"y":0.09},{"i":"b8","x":0.1,"y":0.06},{"i":"b8","x":0.316,"y":0.05},{"i":"b8","x":0.417,"y":0.071},{"i":"b8","x":0.513,"y":0.085},{"i":"b8","x":0.575,"y":0.038},{"i":"b8","x":0.646,"y":0},
{"i":"b9","x":0.000693,"y":0.165},{"i":"b9","x":0.00316,"y":0.15},{"i":"b9","x":0.01,"y":0.125},{"i":"b9","x":0.0316,"y":0.088},{"i":"b9","x":0.1,"y":0.058},{"i":"b9","x":0.316,"y":0.048},{"i":"b9","x":0.437,"y":0.072},{"i":"b9","x":0.537,"y":0.088},{"i":"b9","x":0.617,"y":0.044},{"i":"b9","x":0.708,"y":0},
{"i":"b10","x":0.000693,"y":0.147},{"i":"b10","x":0.00316,"y":0.14},{"i":"b10","x":0.01,"y":0.12},{"i":"b10","x":0.0316,"y":0.09},{"i":"b10","x":0.1,"y":0.062},{"i":"b10","x":0.316,"y":0.052},{"i":"b10","x":0.447,"y":0.078},{"i":"b10","x":0.55,"y":0.095},{"i":"b10","x":0.646,"y":0.052},{"i":"b10","x":0.759,"y":0},
{"i":"b11","x":0.000693,"y":0.128},{"i":"b11","x":0.00316,"y":0.12},{"i":"b11","x":0.01,"y":0.1},{"i":"b11","x":0.0316,"y":0.072},{"i":"b11","x":0.1,"y":0.048},{"i":"b11","x":0.316,"y":0.042},{"i":"b11","x":0.417,"y":0.066},{"i":"b11","x":0.513,"y":0.082},{"i":"b11","x":0.575,"y":0.037},{"i":"b11","x":0.646,"y":0},
{"i":"b12","x":0.000693,"y":0.116},{"i":"b12","x":0.00316,"y":0.1},{"i":"b12","x":0.01,"y":0.082},{"i":"b12","x":0.0316,"y":0.06},{"i":"b12","x":0.1,"y":0.042},{"i":"b12","x":0.316,"y":0.04},{"i":"b12","x":0.437,"y":0.067},{"i":"b12","x":0.537,"y":0.085},{"i":"b12","x":0.617,"y":0.043},{"i":"b12","x":0.708,"y":0},
{"i":"b13","x":0.000693,"y":0.097},{"i":"b13","x":0.00316,"y":0.09},{"i":"b13","x":0.01,"y":0.075},{"i":"b13","x":0.0316,"y":0.055},{"i":"b13","x":0.1,"y":0.036},{"i":"b13","x":0.316,"y":0.036},{"i":"b13","x":0.417,"y":0.062},{"i":"b13","x":0.513,"y":0.08},{"i":"b13","x":0.575,"y":0.036},{"i":"b13","x":0.646,"y":0},
{"i":"b14","x":0.000693,"y":0.079},{"i":"b14","x":0.00316,"y":0.072},{"i":"b14","x":0.01,"y":0.06},{"i":"b14","x":0.0316,"y":0.042},{"i":"b14","x":0.1,"y":0.03},{"i":"b14","x":0.316,"y":0.035},{"i":"b14","x":0.417,"y":0.062},{"i":"b14","x":0.513,"y":0.08},{"i":"b14","x":0.575,"y":0.036},{"i":"b14","x":0.646,"y":0},
{"i":"b15","x":0.000693,"y":0.06},{"i":"b15","x":0.00316,"y":0.055},{"i":"b15","x":0.01,"y":0.045},{"i":"b15","x":0.0316,"y":0.03},{"i":"b15","x":0.1,"y":0.022},{"i":"b15","x":0.316,"y":0.03},{"i":"b15","x":0.417,"y":0.059},{"i":"b15","x":0.513,"y":0.078},{"i":"b15","x":0.575,"y":0.035},{"i":"b15","x":0.646,"y":0},
{"i":"b16","x":0.000693,"y":0.036},{"i":"b16","x":0.00316,"y":0.03},{"i":"b16","x":0.01,"y":0.025},{"i":"b16","x":0.0316,"y":0.016},{"i":"b16","x":0.1,"y":0.015},{"i":"b16","x":0.316,"y":0.03},{"i":"b16","x":0.437,"y":0.061},{"i":"b16","x":0.537,"y":0.082},{"i":"b16","x":0.617,"y":0.041},{"i":"b16","x":0.708,"y":0},
{"i":"b17","x":0.000693,"y":-0.025},{"i":"b17","x":0.00158,"y":0},{"i":"b17","x":0.0251,"y":0},{"i":"b17","x":0.1,"y":0.012},{"i":"b17","x":0.316,"y":0.032},{"i":"b17","x":0.417,"y":0.06},{"i":"b17","x":0.513,"y":0.078},{"i":"b17","x":0.575,"y":0.035},{"i":"b17","x":0.646,"y":0},
{"i":"b18","x":0.000693,"y":-0.056},{"i":"b18","x":0.00158,"y":-0.02},{"i":"b18","x":0.00316,"y":0},{"i":"b18","x":0.0398,"y":0},{"i":"b18","x":0.1,"y":0.008},{"i":"b18","x":0.316,"y":0.028},{"i":"b18","x":0.417,"y":0.06},{"i":"b18","x":0.513,"y":0.08},{"i":"b18","x":0.575,"y":0.036},{"i":"b18","x":0.646,"y":0},
{"i":"b19","x":0.000693,"y":-0.068},{"i":"b19","x":0.00158,"y":-0.035},{"i":"b19","x":0.00316,"y":-0.005},{"i":"b19","x":0.00501,"y":0},{"i":"b19","x":0.0631,"y":0},{"i":"b19","x":0.1,"y":0.004},{"i":"b19","x":0.316,"y":0.025},{"i":"b19","x":0.437,"y":0.058},{"i":"b19","x":0.537,"y":0.082},{"i":"b19","x":0.617,"y":0.041},{"i":"b19","x":0.708,"y":0},
{"i":"b20","x":0.000693,"y":-0.21},{"i":"b20","x":0.00146,"y":-0.16},{"i":"b20","x":0.00316,"y":-0.093},{"i":"b20","x":0.00676,"y":0},{"i":"b20","x":0.0631,"y":0},{"i":"b20","x":0.1,"y":0.005},{"i":"b20","x":0.316,"y":0.025},{"i":"b20","x":0.417,"y":0.057},{"i":"b20","x":0.513,"y":0.078},{"i":"b20","x":0.575,"y":0.035},{"i":"b20","x":0.646,"y":0}
],
"p3":[
{"i":"g0","x":0.0023,"y":0},{"i":"g0","x":4.0,"y":0},
{"i":"g1","x":0.0023,"y":0.467},{"i":"g1","x":0.0501,"y":0.467},{"i":"g1","x":0.1,"y":0.43},{"i":"g1","x":0.178,"y":0.327},{"i":"g1","x":0.251,"y":0.21},{"i":"g1","x":0.355,"y":0.061},{"i":"g1","x":0.427,"y":0},
{"i":"g2","x":0.0023,"y":0.42},{"i":"g2","x":0.0501,"y":0.42},{"i":"g2","x":0.1,"y":0.386},{"i":"g2","x":0.178,"y":0.294},{"i":"g2","x":0.251,"y":0.189},{"i":"g2","x":0.355,"y":0.055},{"i":"g2","x":0.427,"y":0},
{"i":"g3","x":0.0023,"y":0.4},{"i":"g3","x":0.0501,"y":0.4},{"i":"g3","x":0.1,"y":0.368},{"i":"g3","x":0.178,"y":0.28},{"i":"g3","x":0.251,"y":0.18},{"i":"g3","x":0.355,"y":0.052},{"i":"g3","x":0.427,"y":0},
{"i":"g4","x":0.0023,"y":0.34},{"i":"g4","x":0.0501,"y":0.34},{"i":"g4","x":0.1,"y":0.313},{"i":"g4","x":0.178,"y":0.238},{"i":"g4","x":0.251,"y":0.153},{"i":"g4","x":0.355,"y":0.044},{"i":"g4","x":0.427,"y":0},
{"i":"g5","x":0.0023,"y":0.265},{"i":"g5","x":0.0501,"y":0.265},{"i":"g5","x":0.1,"y":0.244},{"i":"g5","x":0.178,"y":0.186},{"i":"g5","x":0.251,"y":0.119},{"i":"g5","x":0.355,"y":0.034},{"i":"g5","x":0.427,"y":0},
{"i":"g6","x":0.0023,"y":0.19},{"i":"g6","x":0.0501,"y":0.19},{"i":"g6","x":0.1,"y":0.175},{"i":"g6","x":0.178,"y":0.133},{"i":"g6","x":0.251,"y":0.086},{"i":"g6","x":0.355,"y":0.025},{"i":"g6","x":0.427,"y":0},
{"i":"g7","x":0.0023,"y":0.41},{"i":"g7","x":0.0501,"y":0.41},{"i":"g7","x":0.1,"y":0.369},{"i":"g7","x":0.178,"y":0.246},{"i":"g7","x":0.251,"y":0.123},{"i":"g7","x":0.355,"y":0},
{"i":"g8","x":0.0023,"y":0.385},{"i":"g8","x":0.0501,"y":0.385},{"i":"g8","x":0.1,"y":0.347},{"i":"g8","x":0.178,"y":0.231},{"i":"g8","x":0.251,"y":0.116},{"i":"g8","x":0.355,"y":0},
{"i":"g9","x":0.0023,"y":0.355},{"i":"g9","x":0.0501,"y":0.355},{"i":"g9","x":0.1,"y":0.32},{"i":"g9","x":0.178,"y":0.213},{"i":"g9","x":0.251,"y":0.107},{"i":"g9","x":0.355,"y":0},
{"i":"g10","x":0.0023,"y":0.31},{"i":"g10","x":0.0501,"y":0.31},{"i":"g10","x":0.1,"y":0.279},{"i":"g10","x":0.178,"y":0.186},{"i":"g10","x":0.251,"y":0.093},{"i":"g10","x":0.355,"y":0},
{"i":"g11","x":0.0023,"y":0.28},{"i":"g11","x":0.0501,"y":0.28},{"i":"g11","x":0.1,"y":0.252},{"i":"g11","x":0.178,"y":0.168},{"i":"g11","x":0.251,"y":0.084},{"i":"g11","x":0.355,"y":0},
{"i":"g12","x":0.0023,"y":0.235},{"i":"g12","x":0.0501,"y":0.235},{"i":"g12","x":0.1,"y":0.212},{"i":"g12","x":0.178,"y":0.141},{"i":"g12","x":0.251,"y":0.071},{"i":"g12","x":0.355,"y":0},
{"i":"g13","x":0.0023,"y":0.205},{"i":"g13","x":0.0501,"y":0.205},{"i":"g13","x":0.1,"y":0.185},{"i":"g13","x":0.178,"y":0.123},{"i":"g13","x":0.251,"y":0.062},{"i":"g13","x":0.355,"y":0},
{"i":"g14","x":0.0023,"y":0.16},{"i":"g14","x":0.0501,"y":0.16},{"i":"g14","x":0.1,"y":0.144},{"i":"g14","x":0.178,"y":0.096},{"i":"g14","x":0.251,"y":0.048},{"i":"g14","x":0.355,"y":0},
{"i":"g15","x":0.0023,"y":0.13},{"i":"g15","x":0.0501,"y":0.13},{"i":"g15","x":0.1,"y":0.117},{"i":"g15","x":0.178,"y":0.078},{"i":"g15","x":0.251,"y":0.039},{"i":"g15","x":0.355,"y":0},
{"i":"g16","x":0.0023,"y":0.1},{"i":"g16","x":0.0501,"y":0.1},{"i":"g16","x":0.1,"y":0.09},{"i":"g16","x":0.178,"y":0.06},{"i":"g16","x":0.251,"y":0.03},{"i":"g16","x":0.355,"y":0},
{"i":"g17","x":0.0023,"y":0.07},{"i":"g17","x":0.0501,"y":0.07},{"i":"g17","x":0.1,"y":0.063},{"i":"g17","x":0.178,"y":0.042},{"i":"g17","x":0.251,"y":0.021},{"i":"g17","x":0.355,"y":0},
{"i":"g18","x":0.0023,"y":0.04},{"i":"g18","x":0.0501,"y":0.04},{"i":"g18","x":0.1,"y":0.036},{"i":"g18","x":0.178,"y":0.024},{"i":"g18","x":0.251,"y":0.012},{"i":"g18","x":0.355,"y":0},
{"i":"g19","x":0.0023,"y":0.37},{"i":"g19","x":0.0501,"y":0.37},{"i":"g19","x":0.1,"y":0.315},{"i":"g19","x":0.178,"y":0.185},{"i":"g19","x":0.282,"y":0},
{"i":"g20","x":0.0023,"y":0.325},{"i":"g20","x":0.0501,"y":0.325},{"i":"g20","x":0.1,"y":0.276},{"i":"g20","x":0.178,"y":0.163},{"i":"g20","x":0.282,"y":0},
{"i":"g21","x":0.0023,"y":0.295},{"i":"g21","x":0.0501,"y":0.295},{"i":"g21","x":0.1,"y":0.251},{"i":"g21","x":0.178,"y":0.148},{"i":"g21","x":0.282,"y":0},
{"i":"g22","x":0.0023,"y":0.25},{"i":"g22","x":0.0501,"y":0.25},{"i":"g22","x":0.1,"y":0.213},{"i":"g22","x":0.178,"y":0.125},{"i":"g22","x":0.282,"y":0},
{"i":"g23","x":0.0023,"y":0.22},{"i":"g23","x":0.0501,"y":0.22},{"i":"g23","x":0.1,"y":0.187},{"i":"g23","x":0.178,"y":0.11},{"i":"g23","x":0.282,"y":0},
{"i":"g24","x":0.0023,"y":0.175},{"i":"g24","x":0.0501,"y":0.175},{"i":"g24","x":0.1,"y":0.149},{"i":"g24","x":0.178,"y":0.088},{"i":"g24","x":0.282,"y":0},
{"i":"g25","x":0.0023,"y":0.145},{"i":"g25","x":0.0501,"y":0.145},{"i":"g25","x":0.1,"y":0.123},{"i":"g25","x":0.178,"y":0.073},{"i":"g25","x":0.282,"y":0},
{"i":"g26","x":0.0023,"y":0.115},{"i":"g26","x":0.0501,"y":0.115},{"i":"g26","x":0.1,"y":0.098},{"i":"g26","x":0.178,"y":0.058},{"i":"g26","x":0.282,"y":0},
{"i":"g27","x":0.0023,"y":0.085},{"i":"g27","x":0.0501,"y":0.085},{"i":"g27","x":0.1,"y":0.072},{"i":"g27","x":0.178,"y":0.043},{"i":"g27","x":0.282,"y":0},
{"i":"g28","x":0.0023,"y":0.055},{"i":"g28","x":0.0501,"y":0.055},{"i":"g28","x":0.1,"y":0.047},{"i":"g28","x":0.178,"y":0.028},{"i":"g28","x":0.282,"y":0},
{"i":"g29","x":0.0023,"y":0.025},{"i":"g29","x":0.0501,"y":0.025},{"i":"g29","x":0.1,"y":0.021},{"i":"g29","x":0.178,"y":0.013},{"i":"g29","x":0.282,"y":0},
{"i":"g30","x":0.0023,"y":-0.46},{"i":"g30","x":0.0501,"y":-0.46},{"i":"g30","x":0.1,"y":-0.437},{"i":"g30","x":0.141,"y":-0.382},{"i":"g30","x":0.178,"y":-0.299},{"i":"g30","x":0.224,"y":-0.179},{"i":"g30","x":0.282,"y":-0.06},{"i":"g30","x":0.339,"y":0},
{"i":"g31","x":0.0023,"y":-0.445},{"i":"g31","x":0.0501,"y":-0.445},{"i":"g31","x":0.1,"y":-0.423},{"i":"g31","x":0.141,"y":-0.369},{"i":"g31","x":0.178,"y":-0.289},{"i":"g31","x":0.224,"y":-0.174},{"i":"g31","x":0.282,"y":-0.058},{"i":"g31","x":0.339,"y":0},
{"i":"g32","x":0.0023,"y":-0.43},{"i":"g32","x":0.0501,"y":-0.43},{"i":"g32","x":0.1,"y":-0.409},{"i":"g32","x":0.141,"y":-0.357},{"i":"g32","x":0.178,"y":-0.28},{"i":"g32","x":0.224,"y":-0.168},{"i":"g32","x":0.282,"y":-0.056},{"i":"g32","x":0.339,"y":0},
{"i":"g33","x":0.0023,"y":-0.37},{"i":"g33","x":0.0501,"y":-0.37},{"i":"g33","x":0.1,"y":-0.352},{"i":"g33","x":0.141,"y":-0.307},{"i":"g33","x":0.178,"y":-0.241},{"i":"g33","x":0.224,"y":-0.144},{"i":"g33","x":0.282,"y":-0.048},{"i":"g33","x":0.339,"y":0},
{"i":"g34","x":0.0023,"y":-0.265},{"i":"g34","x":0.0501,"y":-0.265},{"i":"g34","x":0.1,"y":-0.252},{"i":"g34","x":0.141,"y":-0.22},{"i":"g34","x":0.178,"y":-0.172},{"i":"g34","x":0.224,"y":-0.103},{"i":"g34","x":0.282,"y":-0.034},{"i":"g34","x":0.339,"y":0},
{"i":"g35","x":0.0023,"y":-0.19},{"i":"g35","x":0.0501,"y":-0.19},{"i":"g35","x":0.1,"y":-0.181},{"i":"g35","x":0.141,"y":-0.158},{"i":"g35","x":0.178,"y":-0.124},{"i":"g35","x":0.224,"y":-0.074},{"i":"g35","x":0.282,"y":-0.025},{"i":"g35","x":0.339,"y":0},
{"i":"g36","x":0.0023,"y":-0.355},{"i":"g36","x":0.0501,"y":-0.355},{"i":"g36","x":0.1,"y":-0.32},{"i":"g36","x":0.178,"y":-0.16},{"i":"g36","x":0.251,"y":0},
{"i":"g37","x":0.0023,"y":-0.34},{"i":"g37","x":0.0501,"y":-0.34},{"i":"g37","x":0.1,"y":-0.306},{"i":"g37","x":0.178,"y":-0.153},{"i":"g37","x":0.251,"y":0},
{"i":"g38","x":0.0023,"y":-0.31},{"i":"g38","x":0.0501,"y":-0.31},{"i":"g38","x":0.1,"y":-0.279},{"i":"g38","x":0.178,"y":-0.14},{"i":"g38","x":0.251,"y":0},
{"i":"g39","x":0.0023,"y":-0.28},{"i":"g39","x":0.0501,"y":-0.28},{"i":"g39","x":0.1,"y":-0.252},{"i":"g39","x":0.178,"y":-0.126},{"i":"g39","x":0.251,"y":0},
{"i":"g40","x":0.0023,"y":-0.235},{"i":"g40","x":0.0501,"y":-0.235},{"i":"g40","x":0.1,"y":-0.212},{"i":"g40","x":0.178,"y":-0.106},{"i":"g40","x":0.251,"y":0},
{"i":"g41","x":0.0023,"y":-0.205},{"i":"g41","x":0.0501,"y":-0.205},{"i":"g41","x":0.1,"y":-0.185},{"i":"g41","x":0.178,"y":-0.092},{"i":"g41","x":0.251,"y":0},
{"i":"g42","x":0.0023,"y":-0.16},{"i":"g42","x":0.0501,"y":-0.16},{"i":"g42","x":0.1,"y":-0.144},{"i":"g42","x":0.178,"y":-0.072},{"i":"g42","x":0.251,"y":0},
{"i":"g43","x":0.0023,"y":-0.13},{"i":"g43","x":0.0501,"y":-0.13},{"i":"g43","x":0.1,"y":-0.117},{"i":"g43","x":0.178,"y":-0.059},{"i":"g43","x":0.251,"y":0},
{"i":"g44","x":0.0023,"y":-0.1},{"i":"g44","x":0.0501,"y":-0.1},{"i":"g44","x":0.1,"y":-0.09},{"i":"g44","x":0.178,"y":-0.045},{"i":"g44","x":0.251,"y":0},
{"i":"g45","x":0.0023,"y":-0.07},{"i":"g45","x":0.0501,"y":-0.07},{"i":"g45","x":0.1,"y":-0.063},{"i":"g45","x":0.178,"y":-0.032},{"i":"g45","x":0.251,"y":0},
{"i":"g46","x":0.0023,"y":-0.04},{"i":"g46","x":0.0501,"y":-0.04},{"i":"g46","x":0.1,"y":-0.036},{"i":"g46","x":0.178,"y":-0.018},{"i":"g46","x":0.251,"y":0},
{"i":"g47","x":0.0023,"y":-0.295},{"i":"g47","x":0.0501,"y":-0.289},{"i":"g47","x":0.1,"y":-0.221},{"i":"g47","x":0.2,"y":0},
{"i":"g48","x":0.0023,"y":-0.25},{"i":"g48","x":0.0501,"y":-0.245},{"i":"g48","x":0.1,"y":-0.188},{"i":"g48","x":0.2,"y":0},
{"i":"g49","x":0.0023,"y":-0.22},{"i":"g49","x":0.0501,"y":-0.216},{"i":"g49","x":0.1,"y":-0.165},{"i":"g49","x":0.2,"y":0},
{"i":"g50","x":0.0023,"y":-0.175},{"i":"g50","x":0.0501,"y":-0.172},{"i":"g50","x":0.1,"y":-0.131},{"i":"g50","x":0.2,"y":0},
{"i":"g51","x":0.0023,"y":-0.145},{"i":"g51","x":0.0501,"y":-0.142},{"i":"g51","x":0.1,"y":-0.109},{"i":"g51","x":0.2,"y":0},
{"i":"g52","x":0.0023,"y":-0.115},{"i":"g52","x":0.0501,"y":-0.113},{"i":"g52","x":0.1,"y":-0.086},{"i":"g52","x":0.2,"y":0},
{"i":"g53","x":0.0023,"y":-0.085},{"i":"g53","x":0.0501,"y":-0.083},{"i":"g53","x":0.1,"y":-0.064},{"i":"g53","x":0.2,"y":0},
{"i":"g54","x":0.0023,"y":-0.055},{"i":"g54","x":0.0501,"y":-0.054},{"i":"g54","x":0.1,"y":-0.041},{"i":"g54","x":0.2,"y":0},
{"i":"g55","x":0.0023,"y":-0.025},{"i":"g55","x":0.0501,"y":-0.025},{"i":"g55","x":0.1,"y":-0.019},{"i":"g55","x":0.2,"y":0},
{"i":"b1","x":0.0023,"y":0.394},{"i":"b1","x":0.1,"y":0.383},{"i":"b1","x":0.178,"y":0.274},{"i":"b1","x":0.251,"y":0.197},{"i":"b1","x":0.355,"y":0.175},{"i":"b1","x":1,"y":0.175},{"i":"b1","x":2.24,"y":0.216},{"i":"b1","x":3.02,"y":0.267},{"i":"b1","x":3.39,"y":0.339},{"i":"b1","x":3.44,"y":0.38},{"i":"b1","x":3.45,"y":0},
{"i":"b2","x":0.0023,"y":0.329},{"i":"b2","x":0.1,"y":0.321},{"i":"b2","x":0.178,"y":0.242},{"i":"b2","x":0.251,"y":0.186},{"i":"b2","x":0.355,"y":0.17},{"i":"b2","x":1,"y":0.17},{"i":"b2","x":2.24,"y":0.196},{"i":"b2","x":3.02,"y":0.229},{"i":"b2","x":3.39,"y":0.274},{"i":"b2","x":3.44,"y":0.3},{"i":"b2","x":3.45,"y":0},
{"i":"b3","x":0.0023,"y":0.284},{"i":"b3","x":0.1,"y":0.278},{"i":"b3","x":0.178,"y":0.22},{"i":"b3","x":0.251,"y":0.18},{"i":"b3","x":0.355,"y":0.168},{"i":"b3","x":1,"y":0.168},{"i":"b3","x":2.24,"y":0.186},{"i":"b3","x":3.02,"y":0.209},{"i":"b3","x":3.39,"y":0.242},{"i":"b3","x":3.44,"y":0.26},{"i":"b3","x":3.45,"y":0},
{"i":"b4","x":0.0023,"y":0.253},{"i":"b4","x":0.1,"y":0.248},{"i":"b4","x":0.178,"y":0.203},{"i":"b4","x":0.251,"y":0.171},{"i":"b4","x":0.355,"y":0.162},{"i":"b4","x":1,"y":0.162},{"i":"b4","x":2.24,"y":0.174},{"i":"b4","x":3.02,"y":0.188},{"i":"b4","x":3.39,"y":0.208},{"i":"b4","x":3.44,"y":0.22},{"i":"b4","x":3.45,"y":0},
{"i":"b5","x":0.0023,"y":0.234},{"i":"b5","x":0.1,"y":0.23},{"i":"b5","x":0.178,"y":0.192},{"i":"b5","x":0.251,"y":0.166},{"i":"b5","x":0.355,"y":0.158},{"i":"b5","x":1,"y":0.158},{"i":"b5","x":2.24,"y":0.166},{"i":"b5","x":3.02,"y":0.177},{"i":"b5","x":3.39,"y":0.192},{"i":"b5","x":3.44,"y":0.2},{"i":"b5","x":3.45,"y":0},
{"i":"b6","x":0.0023,"y":0.222},{"i":"b6","x":0.1,"y":0.218},{"i":"b6","x":0.178,"y":0.182},{"i":"b6","x":0.251,"y":0.157},{"i":"b6","x":0.355,"y":0.15},{"i":"b6","x":1,"y":0.15},{"i":"b6","x":2.24,"y":0.154},{"i":"b6","x":3.02,"y":0.159},{"i":"b6","x":3.39,"y":0.166},{"i":"b6","x":3.44,"y":0.17},{"i":"b6","x":3.45,"y":0},
{"i":"b7","x":0.0023,"y":0.216},{"i":"b7","x":0.1,"y":0.213},{"i":"b7","x":0.178,"y":0.182},{"i":"b7","x":0.251,"y":0.161},{"i":"b7","x":0.355,"y":0.155},{"i":"b7","x":1,"y":0.155},{"i":"b7","x":2.24,"y":0.16},{"i":"b7","x":3.02,"y":0.166},{"i":"b7","x":3.39,"y":0.175},{"i":"b7","x":3.44,"y":0.18},{"i":"b7","x":3.45,"y":0},
{"i":"b8","x":0.0023,"y":0.204},{"i":"b8","x":0.1,"y":0.201},{"i":"b8","x":0.178,"y":0.172},{"i":"b8","x":0.251,"y":0.152},{"i":"b8","x":0.355,"y":0.146},{"i":"b8","x":1,"y":0.146},{"i":"b8","x":2.24,"y":0.149},{"i":"b8","x":3.02,"y":0.152},{"i":"b8","x":3.39,"y":0.157},{"i":"b8","x":3.44,"y":0.16},{"i":"b8","x":3.45,"y":0},
{"i":"b9","x":0.0023,"y":0.183},{"i":"b9","x":0.1,"y":0.181},{"i":"b9","x":0.178,"y":0.16},{"i":"b9","x":0.251,"y":0.146},{"i":"b9","x":0.355,"y":0.142},{"i":"b9","x":1,"y":0.142},{"i":"b9","x":2.24,"y":0.144},{"i":"b9","x":3.02,"y":0.146},{"i":"b9","x":3.39,"y":0.148},{"i":"b9","x":3.44,"y":0.15},{"i":"b9","x":3.45,"y":0},
{"i":"b10","x":0.0023,"y":0.173},{"i":"b10","x":0.1,"y":0.171},{"i":"b10","x":0.178,"y":0.155},{"i":"b10","x":0.251,"y":0.143},{"i":"b10","x":0.355,"y":0.14},{"i":"b10","x":1,"y":0.14},{"i":"b10","x":3.44,"y":0.14},{"i":"b10","x":3.45,"y":0},
{"i":"b11","x":0.0023,"y":0.155},{"i":"b11","x":0.1,"y":0.154},{"i":"b11","x":0.178,"y":0.146},{"i":"b11","x":0.251,"y":0.14},{"i":"b11","x":0.355,"y":0.138},{"i":"b11","x":1,"y":0.138},{"i":"b11","x":2.24,"y":0.137},{"i":"b11","x":3.02,"y":0.135},{"i":"b11","x":3.39,"y":0.133},{"i":"b11","x":3.44,"y":0.132},{"i":"b11","x":3.45,"y":0},
{"i":"b12","x":0.0023,"y":0.148},{"i":"b12","x":0.1,"y":0.147},{"i":"b12","x":0.178,"y":0.141},{"i":"b12","x":0.251,"y":0.136},{"i":"b12","x":0.355,"y":0.135},{"i":"b12","x":1,"y":0.135},{"i":"b12","x":2.24,"y":0.134},{"i":"b12","x":3.02,"y":0.132},{"i":"b12","x":3.39,"y":0.129},{"i":"b12","x":3.44,"y":0.128},{"i":"b12","x":3.45,"y":0},
{"i":"b13","x":0.0023,"y":0.13},{"i":"b13","x":0.1,"y":0.13},{"i":"b13","x":0.178,"y":0.131},{"i":"b13","x":0.251,"y":0.132},{"i":"b13","x":0.355,"y":0.132},{"i":"b13","x":1,"y":0.132},{"i":"b13","x":2.24,"y":0.13},{"i":"b13","x":3.02,"y":0.128},{"i":"b13","x":3.39,"y":0.126},{"i":"b13","x":3.44,"y":0.124},{"i":"b13","x":3.45,"y":0},
{"i":"b14","x":0.0023,"y":0.114},{"i":"b14","x":0.1,"y":0.115},{"i":"b14","x":0.178,"y":0.123},{"i":"b14","x":0.251,"y":0.128},{"i":"b14","x":0.355,"y":0.13},{"i":"b14","x":1,"y":0.13},{"i":"b14","x":2.24,"y":0.128},{"i":"b14","x":3.02,"y":0.125},{"i":"b14","x":3.39,"y":0.12},{"i":"b14","x":3.44,"y":0.118},{"i":"b14","x":3.45,"y":0},
{"i":"b15","x":0.0023,"y":0.05},{"i":"b15","x":0.1,"y":0.054},{"i":"b15","x":0.178,"y":0.093},{"i":"b15","x":0.251,"y":0.12},{"i":"b15","x":0.355,"y":0.128},{"i":"b15","x":1,"y":0.128},{"i":"b15","x":2.24,"y":0.124},{"i":"b15","x":3.02,"y":0.119},{"i":"b15","x":3.39,"y":0.112},{"i":"b15","x":3.44,"y":0.108},{"i":"b15","x":3.45,"y":0},
{"i":"b16","x":0.0023,"y":0.025},{"i":"b16","x":0.1,"y":0.03},{"i":"b16","x":0.178,"y":0.08},{"i":"b16","x":0.251,"y":0.115},{"i":"b16","x":0.355,"y":0.125},{"i":"b16","x":1,"y":0.125},{"i":"b16","x":2.24,"y":0.12},{"i":"b16","x":3.02,"y":0.114},{"i":"b16","x":3.39,"y":0.105},{"i":"b16","x":3.44,"y":0.1},{"i":"b16","x":3.45,"y":0},
{"i":"b17","x":0.0023,"y":0.003},{"i":"b17","x":0.1,"y":0.009},{"i":"b17","x":0.178,"y":0.068},{"i":"b17","x":0.251,"y":0.11},{"i":"b17","x":0.355,"y":0.122},{"i":"b17","x":1,"y":0.122},{"i":"b17","x":2.24,"y":0.116},{"i":"b17","x":3.02,"y":0.108},{"i":"b17","x":3.39,"y":0.096},{"i":"b17","x":3.44,"y":0.09},{"i":"b17","x":3.45,"y":0},
{"i":"b18","x":0.0023,"y":-0.061},{"i":"b18","x":0.1,"y":-0.052},{"i":"b18","x":0.178,"y":0.039},{"i":"b18","x":0.251,"y":0.102},{"i":"b18","x":0.355,"y":0.12},{"i":"b18","x":1,"y":0.12},{"i":"b18","x":2.24,"y":0.112},{"i":"b18","x":3.02,"y":0.102},{"i":"b18","x":3.39,"y":0.088},{"i":"b18","x":3.44,"y":0.08},{"i":"b18","x":3.45,"y":0},
{"i":"b19","x":0.0023,"y":-0.073},{"i":"b19","x":0.1,"y":-0.063},{"i":"b19","x":0.178,"y":0.032},{"i":"b19","x":0.251,"y":0.099},{"i":"b19","x":0.355,"y":0.118},{"i":"b19","x":1,"y":0.118},{"i":"b19","x":2.24,"y":0.108},{"i":"b19","x":3.02,"y":0.096},{"i":"b19","x":3.39,"y":0.08},{"i":"b19","x":3.44,"y":0.07},{"i":"b19","x":3.45,"y":0},
{"i":"b20","x":0.0023,"y":-0.098},{"i":"b20","x":0.1,"y":-0.087},{"i":"b20","x":0.178,"y":0.019},{"i":"b20","x":0.251,"y":0.094},{"i":"b20","x":0.355,"y":0.115},{"i":"b20","x":1,"y":0.115},{"i":"b20","x":2.24,"y":0.104},{"i":"b20","x":3.02,"y":0.09},{"i":"b20","x":3.39,"y":0.071},{"i":"b20","x":3.44,"y":0.06},{"i":"b20","x":3.45,"y":0},
{"i":"b21","x":0.0023,"y":-0.104},{"i":"b21","x":0.1,"y":-0.093},{"i":"b21","x":0.178,"y":0.019},{"i":"b21","x":0.251,"y":0.098},{"i":"b21","x":0.355,"y":0.12},{"i":"b21","x":1,"y":0.12},{"i":"b21","x":2.24,"y":0.113},{"i":"b21","x":3.02,"y":0.104},{"i":"b21","x":3.39,"y":0.092},{"i":"b21","x":3.44,"y":0.085},{"i":"b21","x":3.45,"y":0},
{"i":"b22","x":0.0023,"y":-0.125},{"i":"b22","x":0.1,"y":-0.113},{"i":"b22","x":0.178,"y":0.006},{"i":"b22","x":0.251,"y":0.089},{"i":"b22","x":0.355,"y":0.113},{"i":"b22","x":1,"y":0.113},{"i":"b22","x":2.24,"y":0.099},{"i":"b22","x":3.02,"y":0.082},{"i":"b22","x":3.39,"y":0.059},{"i":"b22","x":3.44,"y":0.045},{"i":"b22","x":3.45,"y":0},
{"i":"b23","x":0.0023,"y":-0.295},{"i":"b23","x":0.1,"y":-0.275},{"i":"b23","x":0.178,"y":-0.072},{"i":"b23","x":0.251,"y":0.07},{"i":"b23","x":0.355,"y":0.11},{"i":"b23","x":1,"y":0.11},{"i":"b23","x":2.24,"y":0.093},{"i":"b23","x":3.02,"y":0.072},{"i":"b23","x":3.39,"y":0.042},{"i":"b23","x":3.44,"y":0.025},{"i":"b23","x":3.45,"y":0},{"i":"b23","x":4.0,"y":0}
],
"kl":[
{"m":"PCGLASSO","x":0,"y":32.6},{"m":"PCGLASSO","x":0.005,"y":23},{"m":"PCGLASSO","x":0.014,"y":18.2},{"m":"PCGLASSO","x":0.034,"y":12.4},{"m":"PCGLASSO","x":0.06,"y":8.5},{"m":"PCGLASSO","x":0.092,"y":5.1},{"m":"PCGLASSO","x":0.125,"y":3.2},{"m":"PCGLASSO","x":0.164,"y":2.0},{"m":"PCGLASSO","x":0.216,"y":1.25},{"m":"PCGLASSO","x":0.28,"y":1.08},{"m":"PCGLASSO","x":0.4,"y":1.02},{"m":"PCGLASSO","x":0.6,"y":1.05},{"m":"PCGLASSO","x":0.8,"y":1.1},{"m":"PCGLASSO","x":1.0,"y":1.18},{"m":"PCGLASSO","x":1.25,"y":1.32},
{"m":"GLASSO","x":0,"y":38.4},{"m":"GLASSO","x":0.003,"y":33},{"m":"GLASSO","x":0.008,"y":23},{"m":"GLASSO","x":0.015,"y":13},{"m":"GLASSO","x":0.021,"y":8.5},{"m":"GLASSO","x":0.03,"y":5.4},{"m":"GLASSO","x":0.04,"y":4.3},{"m":"GLASSO","x":0.057,"y":3.9},{"m":"GLASSO","x":0.08,"y":4.2},{"m":"GLASSO","x":0.11,"y":5.0},{"m":"GLASSO","x":0.15,"y":6.2},{"m":"GLASSO","x":0.18,"y":7.2},{"m":"GLASSO","x":0.22,"y":9.2},{"m":"GLASSO","x":0.26,"y":11.4},{"m":"GLASSO","x":0.3,"y":13.6},{"m":"GLASSO","x":0.35,"y":16.6},{"m":"GLASSO","x":0.4,"y":20.0},{"m":"GLASSO","x":0.45,"y":23.8},{"m":"GLASSO","x":0.5,"y":27.8},{"m":"GLASSO","x":0.55,"y":31.6},{"m":"GLASSO","x":0.6,"y":34.8},{"m":"GLASSO","x":0.65,"y":37.2},{"m":"GLASSO","x":0.7,"y":38.7},{"m":"GLASSO","x":0.75,"y":39.5},{"m":"GLASSO","x":0.8,"y":40.0},
{"m":"SCAD","x":0,"y":38.6},{"m":"SCAD","x":0.02,"y":38.6},{"m":"SCAD","x":0.04,"y":38.2},{"m":"SCAD","x":0.06,"y":37.2},{"m":"SCAD","x":0.086,"y":32.8},{"m":"SCAD","x":0.112,"y":26.5},{"m":"SCAD","x":0.138,"y":20.2},{"m":"SCAD","x":0.177,"y":13.9},{"m":"SCAD","x":0.229,"y":9.0},{"m":"SCAD","x":0.294,"y":5.85},{"m":"SCAD","x":0.358,"y":4.64},{"m":"SCAD","x":0.4,"y":4.5},{"m":"SCAD","x":0.46,"y":4.85},{"m":"SCAD","x":0.54,"y":5.6},{"m":"SCAD","x":0.65,"y":7.6},{"m":"SCAD","x":0.8,"y":10.9},{"m":"SCAD","x":0.85,"y":11.9},{"m":"SCAD","x":1.0,"y":16.6},{"m":"SCAD","x":1.125,"y":20.7},{"m":"SCAD","x":1.25,"y":24.2},
{"m":"MCP","x":0,"y":38.6},{"m":"MCP","x":0.047,"y":38.4},{"m":"MCP","x":0.07,"y":38.0},{"m":"MCP","x":0.099,"y":36.7},{"m":"MCP","x":0.138,"y":32.8},{"m":"MCP","x":0.177,"y":28.9},{"m":"MCP","x":0.229,"y":24.1},{"m":"MCP","x":0.28,"y":18.7},{"m":"MCP","x":0.333,"y":13.9},{"m":"MCP","x":0.4,"y":10.2},{"m":"MCP","x":0.462,"y":7.55},{"m":"MCP","x":0.54,"y":5.6},{"m":"MCP","x":0.618,"y":4.9},{"m":"MCP","x":0.7,"y":4.85},{"m":"MCP","x":0.8,"y":5.37},{"m":"MCP","x":0.917,"y":6.6},{"m":"MCP","x":1.047,"y":8.0},{"m":"MCP","x":1.25,"y":9.9}
]
},
"vconcat":[
{"hconcat":[
 {"width":458,"height":298,"data":{"name":"p1"},
  "encoding":{
   "x":{"field":"x","type":"quantitative","title":"Regularization parameter","scale":{"type":"log","domain":[0.00221,7.98],"nice":false},
    "axis":{"values":[0.0031623,0.01,0.031623,0.1,0.31623,1,3.1623],
     "labelExpr":"round(log(datum.value)/LN10*4)==-8?'10⁻²':round(log(datum.value)/LN10*4)==-4?'10⁻¹':round(log(datum.value)/LN10*4)==0?'10⁰':''",
     "gridWidth":{"condition":{"test":"round(log(datum.value)/LN10*4)%4==0","value":1.1},"value":0.55},
     "tickOpacity":{"condition":{"test":"round(log(datum.value)/LN10*4)%4==0","value":1},"value":0}}},
   "y":{"field":"y","type":"quantitative","title":"Partial correlation estimates (GLASSO)","scale":{"domain":[-0.55,0.55],"nice":false,"zero":false},
    "axis":{"values":[-0.5,-0.375,-0.25,-0.125,0,0.125,0.25,0.375,0.5],"format":".2f",
     "labelExpr":"abs(datum.value*4-round(datum.value*4))<0.001?datum.label:''",
     "gridWidth":{"condition":{"test":"abs(datum.value*4-round(datum.value*4))<0.001","value":1.1},"value":0.55},
     "tickOpacity":{"condition":{"test":"abs(datum.value*4-round(datum.value*4))<0.001","value":1},"value":0}}},
   "detail":{"field":"i","type":"nominal"}
  },
  "layer":[
   {"transform":[{"filter":"indexof(datum.i,'g')==0"}],"mark":{"type":"line","color":"#CDCDCD","strokeWidth":1.4,"interpolate":"monotone"}},
   {"transform":[{"filter":"indexof(datum.i,'b')==0"}],"mark":{"type":"line","color":"#1A1A1A","strokeWidth":1,"interpolate":"monotone"}}
  ]},
 {"width":457,"height":298,"data":{"name":"p2"},
  "encoding":{
   "x":{"field":"x","type":"quantitative","title":"Regularization parameter","scale":{"type":"log","domain":[0.000693,1],"nice":false},
    "axis":{"values":[0.001,0.0017783,0.0031623,0.0056234,0.01,0.017783,0.031623,0.056234,0.1,0.17783,0.31623,0.56234,1],
     "labelExpr":"round(log(datum.value)/LN10*4)==-12?'10⁻³':round(log(datum.value)/LN10*4)==-10?'10⁻²·⁵':round(log(datum.value)/LN10*4)==-8?'10⁻²':round(log(datum.value)/LN10*4)==-6?'10⁻¹·⁵':round(log(datum.value)/LN10*4)==-4?'10⁻¹':round(log(datum.value)/LN10*4)==-2?'10⁻⁰·⁵':round(log(datum.value)/LN10*4)==0?'10⁰':''",
     "gridWidth":{"condition":{"test":"round(log(datum.value)/LN10*4)%2==0","value":1.1},"value":0.55},
     "tickOpacity":{"condition":{"test":"round(log(datum.value)/LN10*4)%2==0","value":1},"value":0}}},
   "y":{"field":"y","type":"quantitative","title":"Partial correlation estimates (GLASSO)","scale":{"domain":[-0.55,0.55],"nice":false,"zero":false},
    "axis":{"values":[-0.5,-0.375,-0.25,-0.125,0,0.125,0.25,0.375,0.5],"format":".2f",
     "labelExpr":"abs(datum.value*4-round(datum.value*4))<0.001?datum.label:''",
     "gridWidth":{"condition":{"test":"abs(datum.value*4-round(datum.value*4))<0.001","value":1.1},"value":0.55},
     "tickOpacity":{"condition":{"test":"abs(datum.value*4-round(datum.value*4))<0.001","value":1},"value":0}}},
   "detail":{"field":"i","type":"nominal"}
  },
  "layer":[
   {"transform":[{"filter":"indexof(datum.i,'g')==0"}],"mark":{"type":"line","color":"#CDCDCD","strokeWidth":1.4,"interpolate":"monotone"}},
   {"transform":[{"filter":"indexof(datum.i,'b')==0"}],"mark":{"type":"line","color":"#1A1A1A","strokeWidth":1,"interpolate":"monotone"}}
  ]}
],"spacing":95,"bounds":"flush"},
{"hconcat":[
 {"width":458,"height":297,"data":{"name":"p3"},
  "encoding":{
   "x":{"field":"x","type":"quantitative","title":"Regularization parameter","scale":{"type":"log","domain":[0.0023,4.0],"nice":false},
    "axis":{"values":[0.0031623,0.0056234,0.01,0.017783,0.031623,0.056234,0.1,0.17783,0.31623,0.56234,1,1.7783,3.1623],
     "labelExpr":"round(log(datum.value)/LN10*4)==-10?'10⁻²·⁵':round(log(datum.value)/LN10*4)==-8?'10⁻²':round(log(datum.value)/LN10*4)==-6?'10⁻¹·⁵':round(log(datum.value)/LN10*4)==-4?'10⁻¹':round(log(datum.value)/LN10*4)==-2?'10⁻⁰·⁵':round(log(datum.value)/LN10*4)==0?'10⁰':round(log(datum.value)/LN10*4)==2?'10⁰·⁵':''",
     "gridWidth":{"condition":{"test":"round(log(datum.value)/LN10*4)%2==0","value":1.1},"value":0.55},
     "tickOpacity":{"condition":{"test":"round(log(datum.value)/LN10*4)%2==0","value":1},"value":0}}},
   "y":{"field":"y","type":"quantitative","title":"Partial correlation estimates (PCGLASSO)","scale":{"domain":[-0.55,0.55],"nice":false,"zero":false},
    "axis":{"values":[-0.5,-0.375,-0.25,-0.125,0,0.125,0.25,0.375,0.5],"format":".2f",
     "labelExpr":"abs(datum.value*4-round(datum.value*4))<0.001?datum.label:''",
     "gridWidth":{"condition":{"test":"abs(datum.value*4-round(datum.value*4))<0.001","value":1.1},"value":0.55},
     "tickOpacity":{"condition":{"test":"abs(datum.value*4-round(datum.value*4))<0.001","value":1},"value":0}}},
   "detail":{"field":"i","type":"nominal"}
  },
  "layer":[
   {"transform":[{"filter":"indexof(datum.i,'g')==0"}],"mark":{"type":"line","color":"#CDCDCD","strokeWidth":1.6,"interpolate":"monotone"}},
   {"transform":[{"filter":"indexof(datum.i,'b')==0"}],"mark":{"type":"line","color":"#1A1A1A","strokeWidth":1,"interpolate":"monotone"}}
  ]},
 {"width":353,"height":301,"data":{"name":"kl"},
  "mark":{"type":"line","strokeWidth":1.3,"interpolate":"monotone"},
  "encoding":{
   "x":{"field":"x","type":"quantitative","title":"Regularization parameter","scale":{"domain":[-0.0625,1.3125],"nice":false,"zero":false},
    "axis":{"values":[0,0.2,0.4,0.6,0.8,1,1.2],"format":".1f","titlePadding":3,
     "labelExpr":"abs(datum.value*2.5-round(datum.value*2.5))<0.001?datum.label:''",
     "gridWidth":{"condition":{"test":"abs(datum.value*2.5-round(datum.value*2.5))<0.001","value":1.1},"value":0.55},
     "tickOpacity":{"condition":{"test":"abs(datum.value*2.5-round(datum.value*2.5))<0.001","value":1},"value":0}}},
   "y":{"field":"y","type":"quantitative","title":"KL loss","scale":{"domain":[-1.95,41.95],"nice":false,"zero":false},
    "axis":{"values":[0,5,10,15,20,25,30,35,40],
     "labelExpr":"datum.value%10==0?datum.label:''",
     "gridWidth":{"condition":{"test":"datum.value%10==0","value":1.1},"value":0.55},
     "tickOpacity":{"condition":{"test":"datum.value%10==0","value":1},"value":0}}},
   "color":{"field":"m","type":"nominal","scale":{"domain":["PCGLASSO","GLASSO","SCAD","MCP"],"range":["#1A1A1A","#1A1A1A","#A3A3A3","#B0B0B0"]},
    "legend":{"title":null,"orient":"none","legendX":913,"legendY":471,"padding":0,"symbolType":"stroke","symbolSize":289,"symbolStrokeWidth":1.3,"labelFontSize":10.4,"labelColor":"#000000","labelOffset":8,"rowPadding":4}},
   "strokeDash":{"field":"m","type":"nominal","scale":{"domain":["PCGLASSO","GLASSO","SCAD","MCP"],"range":[[1,0],[5,4],[1,0],[5,4]]},
    "legend":{"title":null,"orient":"none","legendX":913,"legendY":471,"padding":0,"symbolType":"stroke","symbolSize":289,"symbolStrokeWidth":1.3,"labelFontSize":10.4,"labelColor":"#000000","labelOffset":8,"rowPadding":4}}
  }}
],"spacing":80,"bounds":"flush"}
],
"spacing":25
}
